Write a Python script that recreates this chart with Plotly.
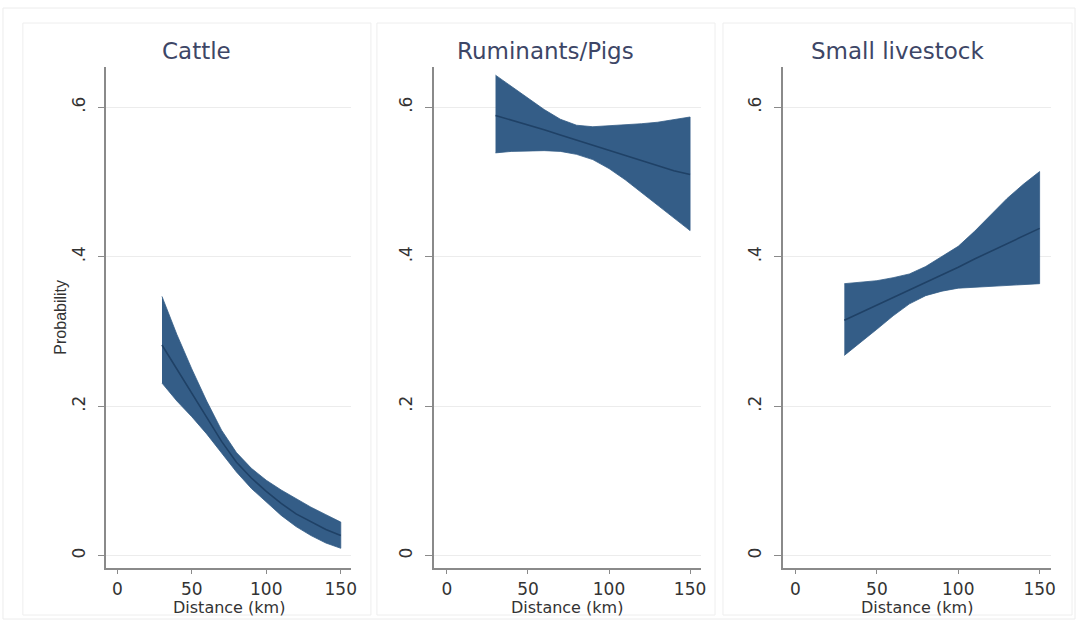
import plotly.graph_objects as go

# ---------------- data ----------------
titles = ["Cattle", "Ruminants/Pigs", "Small livestock"]
distance = [30, 40, 50, 60, 70, 80, 90, 100, 110, 120, 130, 140, 150]

cattle_mean = [0.282, 0.250, 0.218, 0.186, 0.153, 0.125, 0.104, 0.086, 0.070, 0.056, 0.045, 0.035, 0.027]
cattle_upper = [0.347, 0.296, 0.250, 0.207, 0.168, 0.138, 0.117, 0.101, 0.088, 0.076, 0.065, 0.055, 0.045]
cattle_lower = [0.231, 0.207, 0.186, 0.163, 0.138, 0.112, 0.090, 0.072, 0.054, 0.039, 0.027, 0.017, 0.010]

rum_mean = [0.589, 0.583, 0.577, 0.570, 0.563, 0.556, 0.549, 0.542, 0.535, 0.528, 0.521, 0.515, 0.510]
rum_upper = [0.643, 0.628, 0.612, 0.597, 0.584, 0.576, 0.574, 0.575, 0.576, 0.578, 0.580, 0.583, 0.587]
rum_lower = [0.539, 0.541, 0.542, 0.542, 0.541, 0.537, 0.530, 0.518, 0.503, 0.487, 0.470, 0.452, 0.435]

small_mean = [0.315, 0.325, 0.335, 0.345, 0.355, 0.366, 0.376, 0.386, 0.397, 0.407, 0.417, 0.428, 0.438]
small_upper = [0.364, 0.366, 0.368, 0.372, 0.377, 0.387, 0.400, 0.414, 0.434, 0.456, 0.478, 0.497, 0.514]
small_lower = [0.268, 0.286, 0.303, 0.321, 0.337, 0.348, 0.354, 0.358, 0.360, 0.361, 0.362, 0.363, 0.364]

x_ticks = [0, 50, 100, 150]
x_tick_labels = ["0", "50", "100", "150"]
y_ticks = [0, 0.2, 0.4, 0.6]
y_tick_labels = ["0", ".2", ".4", ".6"]
x_title = "Distance (km)"
y_title = "Probability"

series = [
    (cattle_mean, cattle_upper, cattle_lower),
    (rum_mean, rum_upper, rum_lower),
    (small_mean, small_upper, small_lower),
]

# ---------------- layout geometry (pixels) ----------------
W, H = 1084, 621
plot_px = [(107, 353.3, -7.3, 157.1), (436, 705, -8.2, 156.8), (787, 1056.7, -7.9, 156.9)]
panel_px = [(23, 373), (379, 719), (727, 1078)]
y_top_px, y_bot_px = 66.7, 567.7
y_range = [-0.016, 0.6543]

BAND = "#345d87"
LINE = "#1f4166"
TXT = "#333333"
TITLE_C = "#3d4666"
FONT = "DejaVu Sans, Liberation Sans, Arial, sans-serif"

fig = go.Figure()

for i, (m, up, lo) in enumerate(series):
    ax = "" if i == 0 else str(i + 1)
    fig.add_trace(go.Scatter(
        x=distance + distance[::-1], y=up + lo[::-1],
        fill="toself", fillcolor=BAND, mode="lines",
        line=dict(color=BAND, width=0.8),
        xaxis="x" + ax, yaxis="y" + ax, hoverinfo="skip", showlegend=False))
    fig.add_trace(go.Scatter(
        x=distance, y=m, mode="lines",
        line=dict(color=LINE, width=1.6),
        xaxis="x" + ax, yaxis="y" + ax, showlegend=False))

layout = dict(
    width=W, height=H,
    margin=dict(l=0, r=0, t=0, b=0),
    paper_bgcolor="white", plot_bgcolor="white",
    showlegend=False,
    shapes=[], annotations=[],
)

for i in range(3):
    x0, x1, r0, r1 = plot_px[i]
    sfx = "" if i == 0 else str(i + 1)
    layout["xaxis" + sfx] = dict(
        domain=[x0 / W, x1 / W], range=[r0, r1], anchor="y" + sfx,
        tickvals=x_ticks, ticktext=x_tick_labels,
        ticks="outside", ticklen=5, tickcolor="#8a8a8a", tickwidth=1,
        showline=True, linecolor="#8a8a8a", linewidth=1.5,
        showgrid=False, zeroline=False,
        tickfont=dict(family=FONT, size=17, color=TXT),
        ticklabelstandoff=0,
    )
    layout["yaxis" + sfx] = dict(
        domain=[1 - y_bot_px / H, 1 - y_top_px / H], range=y_range, anchor="x" + sfx,
        tickvals=y_ticks, ticktext=y_tick_labels, tickangle=-90,
        ticks="outside", ticklen=7, tickcolor="#8a8a8a", tickwidth=1,
        showline=True, linecolor="#8a8a8a", linewidth=1.5,
        showgrid=True, gridcolor="#ececec", gridwidth=1, zeroline=False,
        tickfont=dict(family=FONT, size=17, color=TXT),
        ticklabelstandoff=6,
    )
    p0, p1 = panel_px[i]
    layout["annotations"].append(dict(
        text=x_title, xref="paper", yref="paper",
        x=(x0 + x1) / 2 / W, y=1 - 607 / H, xanchor="center", yanchor="middle",
        showarrow=False, font=dict(family=FONT, size=16, color=TXT)))
    layout["shapes"].append(dict(
        type="rect", xref="paper", yref="paper",
        x0=p0 / W, x1=p1 / W, y0=1 - 615 / H, y1=1 - 23 / H,
        line=dict(color="#eeeeee", width=1), fillcolor="rgba(0,0,0,0)", layer="below"))
    layout["annotations"].append(dict(
        text=titles[i], xref="paper", yref="paper",
        x=(p0 + p1) / 2 / W, y=1 - 51 / H, xanchor="center", yanchor="middle",
        showarrow=False, font=dict(family=FONT, size=23, color=TITLE_C)))

layout["shapes"].append(dict(
    type="rect", xref="paper", yref="paper",
    x0=3 / W, x1=1081 / W, y0=1 - 619 / H, y1=1 - 8 / H,
    line=dict(color="#ececec", width=1), fillcolor="rgba(0,0,0,0)", layer="below"))

layout["annotations"].append(dict(
    text=y_title, xref="paper", yref="paper",
    x=60 / W, y=1 - 317 / H, xanchor="center", yanchor="middle", textangle=-90,
    showarrow=False,
    font=dict(family="Liberation Sans Narrow, Arial Narrow, Liberation Sans, Arial", size=16, color=TXT)))

fig.update_layout(**layout)
fig.write_html("out.html")
